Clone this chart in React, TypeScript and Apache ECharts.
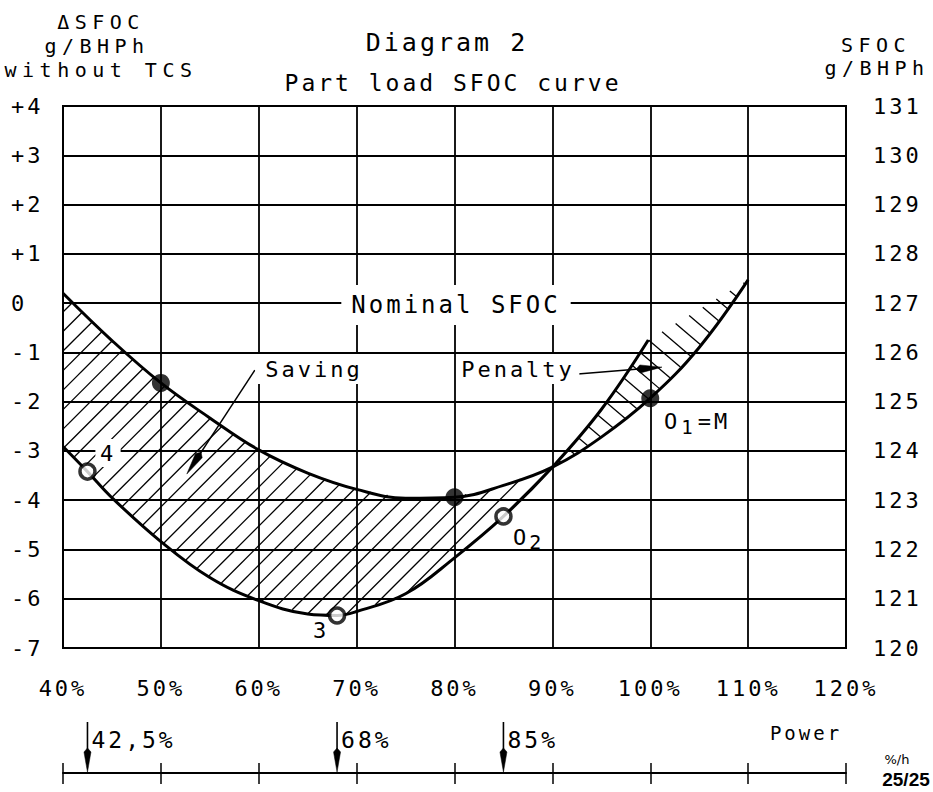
import React, { useEffect, useRef } from "react";
import * as echarts from "echarts";

// ---- data ----
// Curve through the filled points (reference / without TCS)
const powerA = [40, 45, 50, 55, 60, 65, 70, 75, 80, 85, 90, 95, 100, 105, 110];
const sfocA = [0.2, -0.76, -1.62, -2.33, -2.98, -3.45, -3.78, -3.96, -3.94, -3.7, -3.33, -2.72, -1.93, -0.9, 0.47];
// Curve through the open points
const powerB = [40, 42.5, 45, 50, 55, 60, 65, 68, 70, 75, 80, 85, 90, 95, 99.8];
const sfocB = [-2.91, -3.42, -3.95, -4.84, -5.57, -6.04, -6.31, -6.34, -6.26, -5.9, -5.17, -4.33, -3.33, -2.16, -0.75];
// marked points
const filledPower = [50, 80, 100];
const filledSfoc = [-1.62, -3.94, -1.93];
const openPower = [42.5, 68, 85];
const openSfoc = [-3.42, -6.34, -4.33];
// curves cross here: saving below, penalty above
const crossPower = 90;
// power axis marks
const powerMarks = [42.5, 68, 85];
const powerMarkLabels = ["42,5%", "68%", "85%"];
// axes
const xMin = 40, xMax = 120, xStep = 10;
const leftMin = -7, leftMax = 4;
const rightMin = 120, rightMax = 131;

// annotation arrows (data coordinates)
const ANNOT = {
  saving: [[59.6, -1.36], [52.65, -3.47]],
  penalty: [[92.6, -1.44], [101.2, -1.3]],
};

const MONO = '"DejaVu Sans Mono", lspa';
const MONO_WIDE = '"DejaVu Sans Mono", lspb';
const CSS = `.chartbox text[style*="lspa"] { letter-spacing: 3px; }
.chartbox text[style*="lspb"] { letter-spacing: 5.5px; }`;

function arrowEls(from: number[], to: number[], len: number, w: number, lw = 1.5) {
  const dx = to[0] - from[0], dy = to[1] - from[1];
  const L = Math.hypot(dx, dy);
  const ux = dx / L, uy = dy / L;
  const bx = to[0] - ux * len, by = to[1] - uy * len;
  const px = -uy * w / 2, py = ux * w / 2;
  return [
    { type: "line", shape: { x1: from[0], y1: from[1], x2: bx + ux * 2, y2: by + uy * 2 }, style: { stroke: "#000", lineWidth: lw } },
    {
      type: "polygon",
      shape: { points: [[to[0], to[1]], [bx + px, by + py], [bx - ux * 4, by - uy * 4], [bx - px, by - py]] },
      style: { fill: "#000", stroke: "#000", lineWidth: 0.5 },
    },
  ];
}

function hatch(poly: number[][], dir: number[], step: number, offset: number, lw: number) {
  const dl = Math.hypot(dir[0], dir[1]);
  const d = [dir[0] / dl, dir[1] / dl];
  const n = [-d[1], d[0]];
  const proj = poly.map((p) => n[0] * p[0] + n[1] * p[1]);
  const cmin = Math.min(...proj), cmax = Math.max(...proj);
  const els: any[] = [];
  for (let c = Math.ceil((cmin - offset) / step) * step + offset; c <= cmax; c += step) {
    const pts: { t: number; p: number[] }[] = [];
    for (let i = 0; i < poly.length; i++) {
      const p1 = poly[i], p2 = poly[(i + 1) % poly.length];
      const d1 = proj[i] - c, d2 = proj[(i + 1) % poly.length] - c;
      if ((d1 > 0) !== (d2 > 0)) {
        const t = d1 / (d1 - d2);
        const p = [p1[0] + t * (p2[0] - p1[0]), p1[1] + t * (p2[1] - p1[1])];
        pts.push({ t: d[0] * p[0] + d[1] * p[1], p });
      }
    }
    pts.sort((a, b) => a.t - b.t);
    for (let k = 0; k + 1 < pts.length; k += 2) {
      els.push({
        type: "line",
        shape: { x1: pts[k].p[0], y1: pts[k].p[1], x2: pts[k + 1].p[0], y2: pts[k + 1].p[1] },
        style: { stroke: "#000", lineWidth: lw },
      });
    }
  }
  return els;
}

function txt(text: string, x: number, y: number, size: number, extra: any = {}) {
  return {
    type: "text",
    x,
    y,
    z: 100,
    style: {
      text,
      fontSize: size,
      fontFamily: MONO,
      fill: "#000",
      align: "center",
      verticalAlign: "middle",
      textAlign: "center",
      textVerticalAlign: "middle",
      ...extra,
    },
  };
}

function buildOption() {
  const axisLabelBase = { color: "#000", fontSize: 22, fontFamily: MONO };
  const grid0 = { left: 63, right: 87, top: 106, height: 542, show: true, borderColor: "#000", borderWidth: 2, outerBoundsMode: "none", containLabel: false };
  const grid1 = { left: 63, right: 87, top: 718, height: 55, show: false, outerBoundsMode: "none", containLabel: false };

  const ptsA = powerA.map((p, i) => [p, sfocA[i]]);
  const ptsB = powerB.map((p, i) => [p, sfocB[i]]);

  return {
    animation: false,
    backgroundColor: "#fff",
    grid: [grid0, grid1],
    xAxis: [
      {
        type: "value", gridIndex: 0, min: xMin, max: xMax, interval: xStep, position: "bottom",
        axisLine: { show: false }, axisTick: { show: false },
        axisLabel: { ...axisLabelBase, margin: 29, formatter: (v: number) => `${v}%`, showMinLabel: true, showMaxLabel: true },
        splitLine: { show: true, lineStyle: { color: "#000", width: 1.8 } },
      },
      {
        type: "value", gridIndex: 1, min: xMin, max: xMax, interval: xStep, position: "bottom",
        axisLine: { show: true, lineStyle: { color: "#000", width: 2 } },
        axisTick: { show: true, length: 11, lineStyle: { color: "#000", width: 1.5 } },
        axisLabel: { show: false }, splitLine: { show: false },
      },
      {
        type: "value", gridIndex: 1, min: xMin, max: xMax, interval: xStep, position: "bottom",
        axisLine: { show: false },
        axisTick: { show: true, inside: true, length: 10, lineStyle: { color: "#000", width: 1.5 } },
        axisLabel: { show: false }, splitLine: { show: false },
      },
    ],
    yAxis: [
      {
        type: "value", gridIndex: 0, min: leftMin, max: leftMax, interval: 1, position: "left",
        axisLine: { show: false }, axisTick: { show: false },
        axisLabel: { ...axisLabelBase, align: "left", margin: 52, formatter: (v: number) => (v > 0 ? `+${v}` : `${v}`) },
        splitLine: { show: true, lineStyle: { color: "#000", width: 1.8 } },
      },
      {
        type: "value", gridIndex: 0, min: rightMin, max: rightMax, interval: 1, position: "right",
        axisLine: { show: false }, axisTick: { show: false },
        axisLabel: { ...axisLabelBase, align: "left", margin: 27 },
        splitLine: { show: false },
      },
      { type: "value", gridIndex: 1, min: 0, max: 1, show: false },
    ],
    series: [
      {
        type: "custom",
        name: "hatch",
        xAxisIndex: 0,
        yAxisIndex: 0,
        z: 1,
        silent: true,
        data: [[60, 0]],
        renderItem: (_params: any, api: any) => {
          const P = (d: number[]) => api.coord(d);
          const saving = [
            ...ptsA.filter((d) => d[0] <= crossPower).map(P),
            ...ptsB.filter((d) => d[0] <= crossPower).reverse().map(P),
          ];
          const penalty = [
            ...ptsB.filter((d) => d[0] >= crossPower).map(P),
            ...ptsA.filter((d) => d[0] >= crossPower).reverse().map(P),
          ];
          const children = [
            ...hatch(saving, [1, -1], 13.8, 3, 1.3),
            ...hatch(penalty, [1, 0.85], 15, 4, 1.3),
            ...arrowEls(P(ANNOT.saving[0]), P(ANNOT.saving[1]), 22, 8),
            ...arrowEls(P(ANNOT.penalty[0]), P(ANNOT.penalty[1]), 22, 8),
          ];
          return { type: "group", children };
        },
      },
      {
        type: "line", name: "A", xAxisIndex: 0, yAxisIndex: 0, z: 3, data: ptsA,
        showSymbol: false, smooth: 0.4,
        lineStyle: { color: "#000", width: 3 }, silent: true,
      },
      {
        type: "line", name: "B", xAxisIndex: 0, yAxisIndex: 0, z: 3, data: ptsB,
        showSymbol: false, smooth: 0.4,
        lineStyle: { color: "#000", width: 3 }, silent: true,
      },
      {
        type: "scatter", name: "filled", xAxisIndex: 0, yAxisIndex: 0, z: 4, silent: true,
        data: filledPower.map((p, i) => [p, filledSfoc[i]]),
        symbol: "circle", symbolSize: 18, itemStyle: { color: "#000" },
      },
      {
        type: "scatter", name: "open", xAxisIndex: 0, yAxisIndex: 0, z: 4, silent: true,
        data: openPower.map((p, i) => [p, openSfoc[i]]),
        symbol: "circle", symbolSize: 15, itemStyle: { color: "#fff", borderColor: "#000", borderWidth: 3.5 },
      },
      {
        type: "custom", name: "powerMarks", xAxisIndex: 1, yAxisIndex: 2, z: 5, silent: true, clip: false,
        data: powerMarks.map((p) => [p, 0]),
        renderItem: (params: any, api: any) => {
          const x = api.value(0);
          const top = api.coord([x, 1]);
          const bot = api.coord([x, 0]);
          return {
            type: "group",
            children: [
              ...arrowEls([top[0], top[1] + 4], [bot[0], bot[1] - 1], 20, 7, 1.6),
              {
                type: "text",
                x: top[0] + 4,
                y: bot[1] - 33,
                style: {
                  text: powerMarkLabels[params.dataIndex],
                  fontSize: 23, fontFamily: MONO, fill: "#000",
                  align: "left", verticalAlign: "middle", textAlign: "left", textVerticalAlign: "middle",
                },
              },
            ],
          };
        },
      },
    ],
    graphic: [
      txt("ΔSFOC", 101, 22, 20, { fontFamily: MONO_WIDE }),
      txt("g/BHPh", 97, 46, 20, { fontFamily: MONO_WIDE }),
      txt("without TCS", 101, 70, 20, { fontFamily: MONO_WIDE }),
      txt("Diagram 2", 447, 42, 25),
      txt("Part load SFOC curve", 453, 83, 23),
      txt("SFOC", 876, 45, 20, { fontFamily: MONO_WIDE }),
      txt("g/BHPh", 877, 68, 20, { fontFamily: MONO_WIDE }),
      txt("Nominal SFOC", 456, 305, 24, { backgroundColor: "#fff", padding: [8, 28] }),
      txt("Saving", 314, 369, 22, { backgroundColor: "#fff", padding: [4, 19] }),
      txt("Penalty", 518, 369, 22, { backgroundColor: "#fff", padding: [4, 15] }),
      txt("4", 108, 453, 22, { backgroundColor: "#fff", padding: [3, 6] }),
      txt("3", 321, 630, 22),
      txt("{n|O}{s|1}{n|=M}", 664, 421, 22, {
        align: "left", textAlign: "left",
        rich: {
          n: { fontSize: 22, fontFamily: MONO, fill: "#000", lineHeight: 30 },
          s: { fontSize: 19, fontFamily: MONO, fill: "#000", lineHeight: 20, verticalAlign: "bottom", padding: [0, 5, 0, 4] },
        },
      }),
      txt("{n|O}{s|2}", 513, 537, 22, {
        align: "left", textAlign: "left",
        rich: {
          n: { fontSize: 22, fontFamily: MONO, fill: "#000", lineHeight: 30 },
          s: { fontSize: 20, fontFamily: MONO, fill: "#000", lineHeight: 20, verticalAlign: "bottom", padding: [0, 0, 0, 3] },
        },
      }),
      txt("Power", 806, 733, 19),
      txt("%/h", 897, 759, 13, { fontFamily: '"DejaVu Sans", nols' }),
      txt("25/25", 906, 779, 19, { fontFamily: '"Liberation Sans Narrow", "Liberation Sans", nols', fontWeight: "bold" }),
    ],
  };
}

export default function App() {
  const ref = useRef<HTMLDivElement>(null);
  useEffect(() => {
    if (!ref.current) return;
    const chart = echarts.init(ref.current, null, { renderer: "svg", width: 933, height: 792 });
    chart.setOption(buildOption() as any);
    return () => chart.dispose();
  }, []);
  return (
    <div style={{ position: "fixed", left: 0, top: 0, width: 933, height: 792, background: "#fff" }}>
      <style>{CSS}</style>
      <div ref={ref} className="chartbox" style={{ width: 933, height: 792 }} />
    </div>
  );
}
